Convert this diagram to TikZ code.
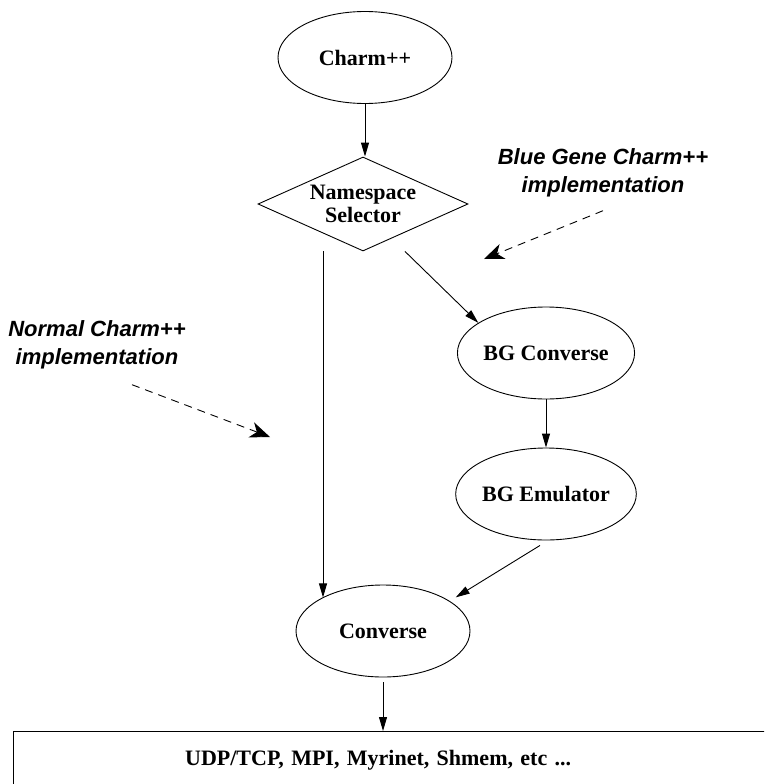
\documentclass[tikz,border=0pt]{standalone}
\usepackage{fontspec}
\setmainfont{Liberation Serif}
\newfontfamily\notefont{Liberation Sans}
\usetikzlibrary{shapes.geometric,arrows.meta}
\begin{document}
\begin{tikzpicture}[x=1pt,y=-1pt,line width=0.9pt,
  layer/.style={draw,ellipse,minimum width=174pt,minimum height=92pt,inner sep=0pt,
    font=\bfseries\fontsize{22}{23}\selectfont},
  pick/.style={draw,diamond,aspect=2.23,minimum width=210pt,minimum height=94pt,inner sep=0pt,
    align=center,font=\bfseries\fontsize{22}{23}\selectfont},
  note/.style={align=center,inner sep=0pt,font=\notefont\bfseries\itshape\fontsize{22}{28}\selectfont},
  flow/.style={-{Triangle[length=14pt,width=8pt]}},
  hint/.style={dash pattern=on 8pt off 6pt,-{Stealth[length=20pt,width=16pt,inset=6pt]}}]
\useasboundingbox (0,0) rectangle (764,784);
\clip (0,0) rectangle (764,784);
% nodes
\node[layer] (charm) at (365,57.5) {Charm++};
\node[pick] (ns) at (363,204) {Namespace\\Selector};
\node[layer] (bgc) at (546,353) {BG Converse};
\node[layer] (bge) at (546,494) {BG Emulator};
\node[layer] (conv) at (383,631) {Converse};
\node[draw,rectangle,anchor=north west,minimum height=58pt,text width=456pt,align=left,
  inner xsep=172pt,inner ysep=0pt,font=\bfseries\fontsize{22}{23}\selectfont]
  (net) at (12.7,731) {UDP/TCP, MPI, Myrinet, Shmem, etc ...};
% notes
\node[note] (bgnote) at (603,173) {Blue Gene Charm++\\implementation};
\node[note] (nnote) at (97,345) {Normal Charm++\\implementation};
\coordinate (bgtip) at (484,259);
\coordinate (ntip) at (270,437);
% arrows
\draw[flow] (charm.south) -- (charm.south |- ns.north);
\draw[flow] ([xshift=-40pt]ns.south) -- ([xshift=-40pt]ns.south |- conv.151);
\draw[flow] ([xshift=42pt]ns.south) -- (bgc.156);
\draw[flow] (bgc.south) -- (bge.north);
\draw[flow] ([xshift=-6pt,yshift=-5pt]bge.south) -- ([xshift=7pt,yshift=3pt]conv.25);
\draw[flow] ([yshift=-5pt]conv.south) -- (conv.south |- net.north);
\draw[hint] ([yshift=-13pt]bgnote.south) -- (bgtip);
\draw[hint] ([xshift=35pt,yshift=-15pt]nnote.south) -- (ntip);
\end{tikzpicture}
\end{document}
